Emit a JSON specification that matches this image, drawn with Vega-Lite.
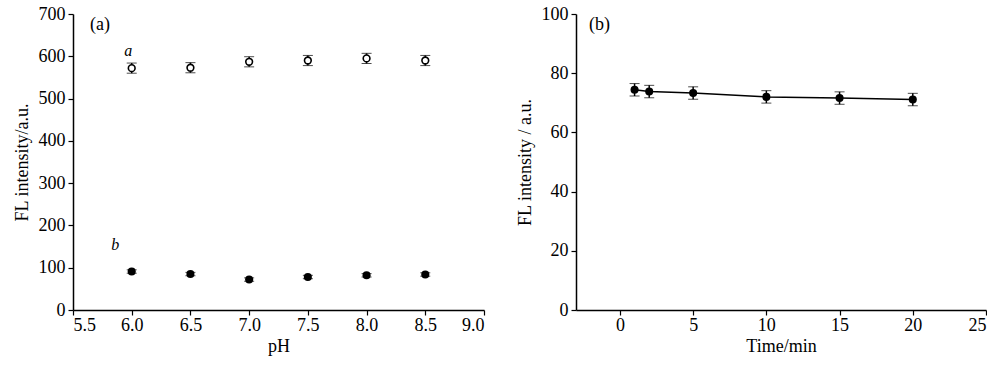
{
  "$schema": "https://vega.github.io/schema/vega-lite/v6.json",
  "background": "white",
  "padding": {"left": 13, "top": 5, "right": 0, "bottom": 2},
  "spacing": 31,
  "datasets": {
    "ph": [
      {"series": "a", "pH": 6.0, "value": 572, "err": 12},
      {"series": "a", "pH": 6.5, "value": 573, "err": 12},
      {"series": "a", "pH": 7.0, "value": 587, "err": 12},
      {"series": "a", "pH": 7.5, "value": 590, "err": 12},
      {"series": "a", "pH": 8.0, "value": 595, "err": 12},
      {"series": "a", "pH": 8.5, "value": 590, "err": 12},
      {"series": "b", "pH": 6.0, "value": 91, "err": 4},
      {"series": "b", "pH": 6.5, "value": 85, "err": 4},
      {"series": "b", "pH": 7.0, "value": 72, "err": 4},
      {"series": "b", "pH": 7.5, "value": 78, "err": 4},
      {"series": "b", "pH": 8.0, "value": 82, "err": 4},
      {"series": "b", "pH": 8.5, "value": 84, "err": 4}
    ],
    "phLabels": [
      {"pH": 5.73, "value": 675, "label": "(a)", "kind": "panel"},
      {"pH": 5.97, "value": 612, "label": "a", "kind": "series"},
      {"pH": 5.86, "value": 153, "label": "b", "kind": "series"}
    ],
    "time": [
      {"time": 1, "value": 74.4, "err": 2.1},
      {"time": 2, "value": 73.8, "err": 2.1},
      {"time": 5, "value": 73.3, "err": 2.1},
      {"time": 10, "value": 72.0, "err": 2.1},
      {"time": 15, "value": 71.6, "err": 2.1},
      {"time": 20, "value": 71.1, "err": 2.1}
    ],
    "timeLabels": [
      {"time": -1.4, "value": 96.3, "label": "(b)"}
    ]
  },
  "config": {
    "view": {"stroke": null},
    "font": "Liberation Serif",
    "axis": {
      "grid": false,
      "labelFont": "Liberation Serif",
      "titleFont": "Liberation Serif",
      "labelFontSize": 18,
      "titleFontSize": 18,
      "titleFontWeight": "normal",
      "labelColor": "black",
      "titleColor": "black",
      "domainColor": "black",
      "domainWidth": 1.5,
      "tickColor": "black",
      "tickWidth": 1.2,
      "tickSize": 5
    },
    "axisX": {"labelPadding": 1, "titlePadding": 3},
    "axisY": {"labelPadding": 3, "titlePadding": 7}
  },
  "hconcat": [
    {
      "width": 411,
      "height": 296,
      "layer": [
        {
          "data": {"name": "ph"},
          "mark": {"type": "errorbar", "ticks": {"size": 10, "color": "black", "strokeWidth": 1.5}, "rule": {"color": "black", "strokeWidth": 1.5}},
          "encoding": {
            "x": {"field": "pH", "type": "quantitative", "title": "pH", "scale": {"domain": [5.5, 9.0], "nice": false}, "axis": {"values": [5.5, 6.0, 6.5, 7.0, 7.5, 8.0, 8.5, 9.0], "format": ".1f"}},
            "y": {"field": "value", "type": "quantitative", "title": "FL intensity/a.u.", "scale": {"domain": [0, 700], "nice": false}, "axis": {"values": [0, 100, 200, 300, 400, 500, 600, 700]}},
            "yError": {"field": "err"},
            "detail": {"field": "series"}
          }
        },
        {
          "data": {"name": "ph"},
          "transform": [{"filter": "datum.series === 'a'"}],
          "mark": {"type": "point", "shape": "circle", "filled": true, "fill": "white", "stroke": "black", "strokeWidth": 1.6, "size": 45, "opacity": 1},
          "encoding": {
            "x": {"field": "pH", "type": "quantitative", "title": "pH"},
            "y": {"field": "value", "type": "quantitative", "title": "FL intensity/a.u."}
          }
        },
        {
          "data": {"name": "ph"},
          "transform": [{"filter": "datum.series === 'b'"}],
          "mark": {"type": "point", "shape": "circle", "filled": true, "color": "black", "size": 65, "opacity": 1},
          "encoding": {
            "x": {"field": "pH", "type": "quantitative", "title": "pH"},
            "y": {"field": "value", "type": "quantitative", "title": "FL intensity/a.u."}
          }
        },
        {
          "data": {"name": "phLabels"},
          "transform": [{"filter": "datum.kind === 'panel'"}],
          "mark": {"type": "text", "font": "Liberation Serif", "fontSize": 18, "color": "black"},
          "encoding": {
            "x": {"field": "pH", "type": "quantitative", "title": "pH"},
            "y": {"field": "value", "type": "quantitative", "title": "FL intensity/a.u."},
            "text": {"field": "label"}
          }
        },
        {
          "data": {"name": "phLabels"},
          "transform": [{"filter": "datum.kind === 'series'"}],
          "mark": {"type": "text", "font": "Liberation Serif", "fontSize": 16, "fontStyle": "italic", "color": "black"},
          "encoding": {
            "x": {"field": "pH", "type": "quantitative", "title": "pH"},
            "y": {"field": "value", "type": "quantitative", "title": "FL intensity/a.u."},
            "text": {"field": "label"}
          }
        }
      ]
    },
    {
      "width": 410,
      "height": 296,
      "layer": [
        {
          "data": {"name": "time"},
          "mark": {"type": "errorbar", "ticks": {"size": 10, "color": "black", "strokeWidth": 1.5}, "rule": {"color": "black", "strokeWidth": 1.5}},
          "encoding": {
            "x": {"field": "time", "type": "quantitative", "title": "Time/min", "scale": {"domain": [-3, 25], "nice": false}, "axis": {"values": [0, 5, 10, 15, 20, 25]}},
            "y": {"field": "value", "type": "quantitative", "title": "FL intensity / a.u.", "scale": {"domain": [0, 100], "nice": false}, "axis": {"values": [0, 20, 40, 60, 80, 100]}},
            "yError": {"field": "err"}
          }
        },
        {
          "data": {"name": "time"},
          "mark": {"type": "line", "color": "black", "strokeWidth": 1.5},
          "encoding": {
            "x": {"field": "time", "type": "quantitative", "title": "Time/min"},
            "y": {"field": "value", "type": "quantitative", "title": "FL intensity / a.u."}
          }
        },
        {
          "data": {"name": "time"},
          "mark": {"type": "point", "shape": "circle", "filled": true, "color": "black", "size": 65, "opacity": 1},
          "encoding": {
            "x": {"field": "time", "type": "quantitative", "title": "Time/min"},
            "y": {"field": "value", "type": "quantitative", "title": "FL intensity / a.u."}
          }
        },
        {
          "data": {"name": "timeLabels"},
          "mark": {"type": "text", "font": "Liberation Serif", "fontSize": 18, "color": "black"},
          "encoding": {
            "x": {"field": "time", "type": "quantitative", "title": "Time/min"},
            "y": {"field": "value", "type": "quantitative", "title": "FL intensity / a.u."},
            "text": {"field": "label"}
          }
        }
      ]
    }
  ]
}
